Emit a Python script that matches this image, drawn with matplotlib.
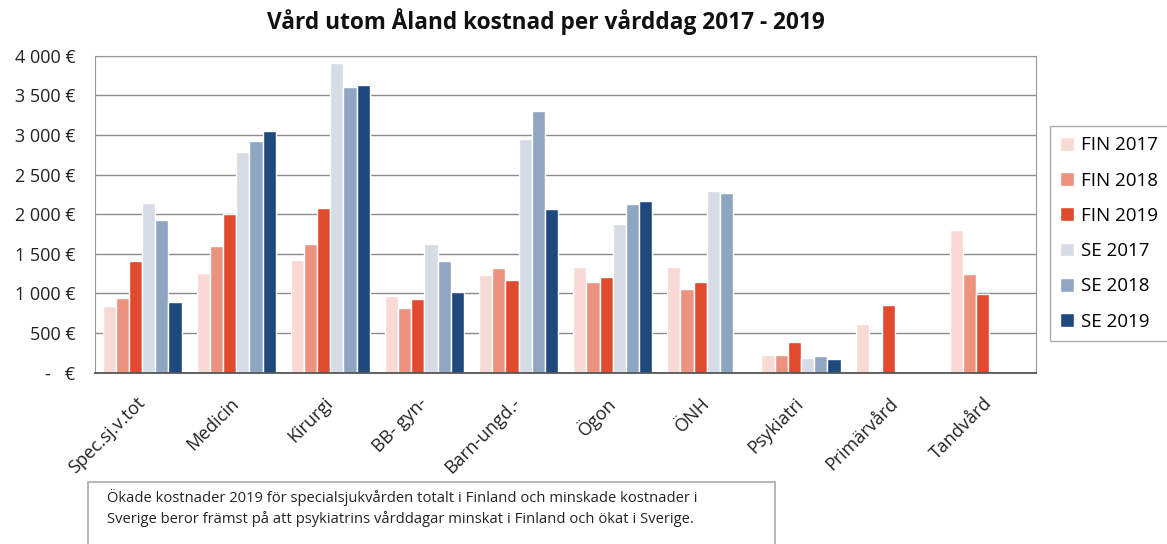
import numpy as np
import matplotlib
matplotlib.use('Agg')
import matplotlib.pyplot as plt
from matplotlib.ticker import FuncFormatter

plt.rcParams['font.family'] = ['Open Sans', 'DejaVu Sans']

kategorier = ['Spec.sj.v.tot', 'Medicin', 'Kirurgi', 'BB- gyn-', 'Barn-ungd.-',
              'Ögon', 'ÖNH', 'Psykiatri', 'Primärvård', 'Tandvård']
serier = ['FIN 2017', 'FIN 2018', 'FIN 2019', 'SE 2017', 'SE 2018', 'SE 2019']

fin_2017 = [841, 1262, 1426, 972, 1232, 1333, 1333, 223, 614, 1804]
fin_2018 = [946, 1594, 1624, 812, 1321, 1140, 1052, 223, np.nan, 1245]
fin_2019 = [1413, 2002, 2074, 930, 1169, 1203, 1140, 387, 854, 993]
se_2017 = [2137, 2784, 3903, 1624, 2953, 1880, 2288, 189, np.nan, np.nan]
se_2018 = [1926, 2923, 3600, 1413, 3302, 2124, 2271, 206, np.nan, np.nan]
se_2019 = [896, 3045, 3634, 1018, 2061, 2166, np.nan, 172, np.nan, np.nan]

farger = ['#F8D9D3', '#EC9380', '#E04B2F', '#D5DCE6', '#8FA6C2', '#1F497D']
data = [fin_2017, fin_2018, fin_2019, se_2017, se_2018, se_2019]

fig = plt.figure(figsize=(11.67, 5.44), dpi=100)
ax = fig.add_axes([0.0814, 0.315, 0.8066, 0.5826])

x = np.arange(len(kategorier))
w = 0.14
for i in range(6):
    ax.bar(x + (i - 2.5) * w, data[i], width=w, color=farger[i],
           edgecolor='white', linewidth=1, label=serier[i], zorder=3)

ax.set_xlim(-0.5, len(kategorier) - 0.5)
ax.set_ylim(0, 4000)
ax.set_yticks(range(0, 4001, 500))

def euro(v, pos):
    if v == 0:
        return '-   €'
    return f'{int(v):,}'.replace(',', ' ') + ' €'

ax.yaxis.set_major_formatter(FuncFormatter(euro))
ax.grid(axis='y', color='#8c8c8c', linewidth=1, zorder=0)
ax.tick_params(axis='both', length=0, labelsize=13, colors='#222222')
ax.tick_params(axis='y', pad=14)
ax.set_xticks(x)
ax.set_xticklabels(kategorier, rotation=45, ha='right', va='center',
                   rotation_mode='anchor')
ax.tick_params(axis='x', pad=20)
for s in ['top', 'right', 'left']:
    ax.spines[s].set_color('#999999')
ax.spines['bottom'].set_color('#555555')
ax.spines['bottom'].set_linewidth(1.3)
ax.spines['bottom'].set_zorder(5)

fig.text(546 / 1167, 1 - 22 / 544, 'Vård utom Åland kostnad per vårddag 2017 - 2019',
         fontsize=16.3, fontweight='bold', ha='center', va='center', color='#111111')

leg = ax.legend(loc='upper left', bbox_to_anchor=(1.0145, 0.778), fontsize=13.5,
                frameon=True, fancybox=False, edgecolor='#999999',
                handlelength=0.75, handleheight=0.75, handletextpad=0.35,
                labelspacing=0.92, borderpad=0.55, borderaxespad=0)
leg.get_frame().set_linewidth(1)

# kommentarsruta under diagrammet
box = plt.Rectangle((88 / 1167, -0.05), (775 - 88) / 1167, (544 - 482) / 544 + 0.05,
                    transform=fig.transFigure, facecolor='white',
                    edgecolor='#aaaaaa', linewidth=1.2)
fig.patches.append(box)
fig.text(107 / 1167, 1 - 497 / 544,
         'Ökade kostnader 2019 för specialsjukvården totalt i Finland och minskade kostnader i',
         fontsize=10.6, va='center', ha='left', color='#222222')
fig.text(107 / 1167, 1 - 519 / 544,
         'Sverige beror främst på att psykiatrins vårddagar minskat i Finland och ökat i Sverige.',
         fontsize=10.6, va='center', ha='left', color='#222222')

fig.savefig('out.png', dpi=100)
